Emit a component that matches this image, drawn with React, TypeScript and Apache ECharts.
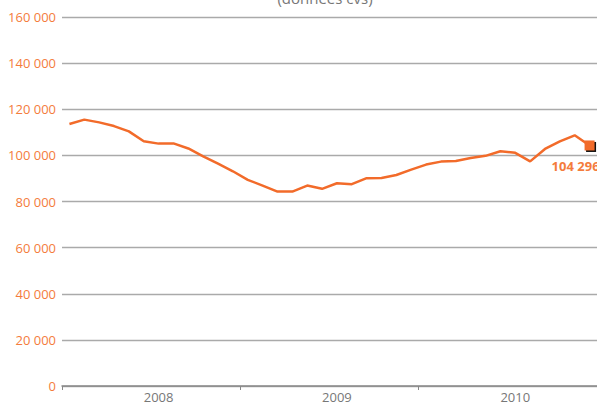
import React, { useEffect, useRef } from "react";
import * as echarts from "echarts";

const months: string[] = [
  "2008-01", "2008-02", "2008-03", "2008-04", "2008-05", "2008-06",
  "2008-07", "2008-08", "2008-09", "2008-10", "2008-11", "2008-12",
  "2009-01", "2009-02", "2009-03", "2009-04", "2009-05", "2009-06",
  "2009-07", "2009-08", "2009-09", "2009-10", "2009-11", "2009-12",
  "2010-01", "2010-02", "2010-03", "2010-04", "2010-05", "2010-06",
  "2010-07", "2010-08", "2010-09", "2010-10", "2010-11", "2010-12",
];

const values: number[] = [
  113600, 115500, 114300, 112700, 110400, 106100,
  105100, 105200, 103000, 99600, 96400, 93100,
  89400, 86900, 84300, 84300, 86900, 85500,
  87900, 87500, 90100, 90200, 91500, 93800,
  96000, 97300, 97600, 98900, 99800, 101800,
  101100, 97400, 102800, 106100, 108700, 104296,
];

const title = "(données cvs)";
const yMin = 0;
const yMax = 160000;
const yStep = 20000;

const ORANGE = "#f26b2a";
const LABEL_ORANGE = "#f47c3c";
const GRAY_TEXT = "#777777";
const GRID_GRAY = "#aaaaaa";

const fmt = (v: number) =>
  String(Math.round(v)).replace(/\B(?=(\d{3})+(?!\d))/g, " ");

export default function App() {
  const ref = useRef<HTMLDivElement>(null);
  useEffect(() => {
    if (!ref.current) return;
    const chart = echarts.init(ref.current, null, { renderer: "svg" });
    const lastIdx = values.length - 1;
    const lastPoint = [months[lastIdx], values[lastIdx]];
    chart.setOption({
      animation: false,
      textStyle: { fontFamily: "Open Sans" },
      grid: { left: 62, right: 0, top: 17, bottom: 16, containLabel: false },
      graphic: [
        {
          type: "text",
          x: 325,
          y: 5,
          style: {
            text: title,
            fill: GRAY_TEXT,
            font: "15px 'Open Sans'",
            align: "center",
            verticalAlign: "bottom",
            textAlign: "center",
            textVerticalAlign: "bottom",
          },
        },
      ],
      xAxis: {
        type: "category",
        data: months,
        boundaryGap: true,
        axisLine: { show: true, lineStyle: { color: "#888888", width: 1.5 } },
        axisTick: {
          show: true,
          interval: (i: number) => i % 12 === 0,
          length: 4,
          lineStyle: { color: "#888888" },
        },
        axisLabel: {
          interval: (i: number) => i % 12 === 6,
          formatter: (v: string) => v.slice(0, 4),
          color: GRAY_TEXT,
          fontSize: 13,
          margin: 4,
        },
        splitLine: { show: false },
      },
      yAxis: {
        type: "value",
        min: yMin,
        max: yMax,
        interval: yStep,
        axisLine: { show: false },
        axisTick: { show: false },
        axisLabel: {
          formatter: (v: number) => fmt(v),
          color: LABEL_ORANGE,
          fontSize: 13,
          margin: 6,
        },
        splitLine: { show: true, lineStyle: { color: GRID_GRAY, width: 1.3 } },
      },
      series: [
        {
          type: "line",
          data: values,
          showSymbol: false,
          symbol: "none",
          lineStyle: { color: ORANGE, width: 2.5 },
          z: 3,
        },
        {
          type: "scatter",
          data: [lastPoint],
          symbol: "rect",
          symbolSize: 10,
          symbolOffset: [1.5, 1.5],
          itemStyle: { color: "#111111", opacity: 1 },
          z: 4,
        },
        {
          type: "scatter",
          data: [lastPoint],
          symbol: "rect",
          symbolSize: 10,
          itemStyle: { color: ORANGE, opacity: 1 },
          label: {
            show: true,
            position: "bottom",
            offset: [-14, 4],
            formatter: (p: any) => fmt(p.value[1]),
            color: LABEL_ORANGE,
            fontSize: 13,
            fontWeight: "bold",
          },
          z: 5,
        },
      ],
    });
    return () => chart.dispose();
  }, []);
  return (
    <div
      ref={ref}
      style={{ position: "absolute", left: 0, top: 0, width: 597, height: 403 }}
    />
  );
}
